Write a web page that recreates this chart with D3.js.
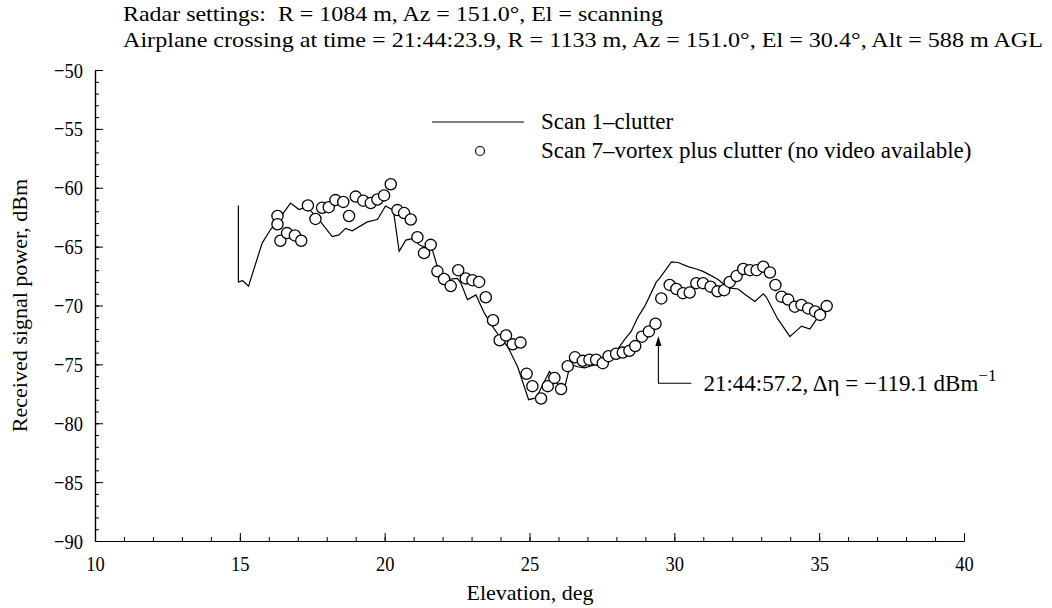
<!DOCTYPE html>
<html>
<head>
<meta charset="utf-8">
<script src="https://cdn.jsdelivr.net/npm/d3@7"></script>
<style>
body { margin: 0; background: #fff; }
svg { font-family: "Liberation Serif", "DejaVu Serif", serif; }
text { white-space: pre; }
</style>
</head>
<body>
<div id="chart" style="width:1052px;height:608px"></div>
<script>
var titleLines = [
    "Radar settings:  R = 1084 m, Az = 151.0\u00b0, El = scanning",
    "Airplane crossing at time = 21:44:23.9, R = 1133 m, Az = 151.0\u00b0, El = 30.4\u00b0, Alt = 588 m AGL"
]
var xTicks = [10, 15, 20, 25, 30, 35, 40]
var yTicks = [-50, -55, -60, -65, -70, -75, -80, -85, -90]
var seriesNames = ["Scan 1\u2013clutter", "Scan 7\u2013vortex plus clutter (no video available)"]

var clutterElev = [14.95, 14.95, 15.1, 15.3, 15.77, 16.06, 16.25, 16.75, 17.04, 17.32, 17.79, 18.19, 18.42, 18.65, 18.88,
    19.4, 19.75, 20.03, 20.3, 20.5, 20.73, 21.0, 21.19, 21.65, 21.82, 22.11, 22.51, 22.63, 22.86, 23.15, 23.44,
    23.73, 24.01, 24.25, 24.59, 24.97, 25.22, 25.34, 25.69, 25.8, 26.09, 26.21, 26.35, 26.44, 26.67, 26.9, 27.24,
    27.53, 27.82, 28.05, 28.28, 28.51, 28.74, 28.97, 29.09, 29.38, 29.49, 29.9, 30.13, 30.47, 30.76, 30.99, 31.22,
    31.51, 31.86, 32.2, 32.43, 32.78, 33.07, 33.18, 33.56, 33.99, 34.39, 34.68, 34.97]
var clutterPower = [-61.5, -68.0, -67.9, -68.35, -64.7, -63.55, -63.0, -61.3, -61.85, -61.6, -62.9, -64.15, -64.0, -63.45, -63.65,
    -62.9, -62.7, -61.55, -61.9, -65.4, -64.45, -64.3, -64.85, -65.3, -66.7, -67.8, -67.7, -68.1, -69.5, -69.1, -70.65,
    -71.8, -72.8, -73.5, -75.2, -78.0, -77.85, -77.3, -75.6, -76.0, -77.15, -77.0, -75.6, -75.05, -75.2, -75.3, -75.05,
    -74.75, -74.3, -73.7, -72.9, -72.2, -71.0, -70.1, -69.5, -68.0, -67.7, -66.3, -66.35, -66.7, -66.9, -67.1, -67.4,
    -67.8, -68.5, -68.6, -69.05, -69.65, -69.0, -69.3, -71.1, -72.65, -71.75, -72.0, -70.95]

var vortexElev = [16.3, 16.3, 16.4, 16.63, 16.9, 17.12, 17.35, 17.61, 17.84, 18.07, 18.3, 18.57, 18.77, 19.0, 19.26,
    19.52, 19.75, 19.98, 20.21, 20.44, 20.67, 20.9, 21.13, 21.36, 21.59, 21.82, 22.05, 22.28, 22.54, 22.8, 23.03,
    23.26, 23.49, 23.74, 23.97, 24.19, 24.42, 24.69, 24.9, 25.1, 25.4, 25.63, 25.86, 26.09, 26.32, 26.57, 26.84,
    27.07, 27.3, 27.53, 27.73, 27.99, 28.22, 28.45, 28.65, 28.88, 29.12, 29.35, 29.55, 29.84, 30.07, 30.3, 30.53,
    30.76, 30.99, 31.25, 31.49, 31.72, 31.91, 32.15, 32.38, 32.61, 32.84, 33.07, 33.3, 33.49, 33.7, 33.93, 34.16,
    34.39, 34.62, 34.86, 35.03, 35.26]
var vortexPower = [-62.4, -63.1, -64.5, -63.85, -64.05, -64.5, -61.5, -62.65, -61.7, -61.65, -61.05, -61.2, -62.4, -60.75, -61.1,
    -61.3, -61.0, -60.65, -59.7, -61.9, -62.15, -62.7, -64.2, -65.55, -64.85, -67.1, -67.75, -68.35, -67.0, -67.7, -67.85,
    -68.0, -69.3, -71.25, -72.95, -72.55, -73.3, -73.15, -75.8, -76.85, -77.9, -76.85, -76.15, -77.1, -75.15, -74.4, -74.7,
    -74.6, -74.6, -74.9, -74.3, -74.1, -74.0, -73.85, -73.45, -72.65, -72.2, -71.55, -69.4, -68.25, -68.6, -68.95, -68.9,
    -68.1, -68.1, -68.4, -68.8, -68.7, -68.0, -67.5, -66.9, -67.0, -67.0, -66.7, -67.2, -68.25, -69.25, -69.5, -70.1,
    -69.95, -70.25, -70.5, -70.8, -70.05]

var markerElev = 29.45
var markerTop = -72.6
var markerText = "21:44:57.2, \u0394\u03b7 = \u2212119.1 dBm"

function Chart(id) {
    var dom = document.getElementById(id)
    var svg = d3.select("#" + id)
                .append("svg")
                .attr("width", dom.clientWidth)
                .attr("height", dom.clientHeight)

    var x = d3.scaleLinear().domain([10, 40]).range([95, 964])
    var y = d3.scaleLinear().domain([-90, -50]).range([541, 70])

    // minor ticks every unit, pointing inward
    svg.append("g")
       .attr("transform", "translate(0," + y(-90) + ")")
       .call(d3.axisBottom(x).tickValues(d3.range(10, 41, 1)).tickSizeInner(-4).tickSizeOuter(0).tickFormat(""))
    svg.append("g")
       .attr("transform", "translate(" + x(10) + ",0)")
       .call(d3.axisLeft(y).tickValues(d3.range(-90, -49, 1)).tickSizeInner(-4).tickSizeOuter(0).tickFormat(""))

    var xAxis = svg.append("g")
       .attr("transform", "translate(0," + y(-90) + ")")
       .call(d3.axisBottom(x).tickValues(xTicks).tickSizeInner(-8).tickSizeOuter(0).tickPadding(14))
    var yAxis = svg.append("g")
       .attr("transform", "translate(" + x(10) + ",0)")
       .call(d3.axisLeft(y).tickValues(yTicks).tickSizeInner(-8).tickSizeOuter(0).tickPadding(6)
             .tickFormat(function (d) { return String(d).replace("-", "\u2212") }))

    svg.selectAll(".domain").attr("stroke", "#000").attr("stroke-width", 1.2)
    svg.selectAll(".tick line").attr("stroke", "#000")
    svg.selectAll(".tick text")
       .attr("font-family", "Liberation Serif")
       .attr("font-size", 22)
       .attr("fill", "#000")
    xAxis.selectAll(".tick text").attr("dy", "0.72em")
    yAxis.selectAll(".tick text").attr("dx", "-6")

    svg.selectAll(".tick text").each(function () {
        var w = this.getComputedTextLength()
        d3.select(this).attr("textLength", w * 0.84).attr("lengthAdjust", "spacingAndGlyphs")
    })

    svg.append("text")
       .attr("x", 530)
       .attr("y", 600)
       .attr("text-anchor", "middle")
       .attr("font-size", 22)
       .text("Elevation, deg")

    svg.append("text")
       .attr("transform", "translate(27," + y(-70) + ") rotate(-90)")
       .attr("text-anchor", "middle")
       .attr("font-size", 22)
       .text("Received signal power, dBm")

    svg.selectAll(".title")
       .data(titleLines)
       .enter().append("text")
       .attr("class", "title")
       .attr("x", 123)
       .attr("y", function (d, i) { return 21 + i * 26 })
       .attr("font-size", 22)
       .attr("textLength", function (d, i) { return i == 0 ? 540 : 920 })
       .attr("lengthAdjust", "spacingAndGlyphs")
       .text(function (d) { return d })

    var clutter = d3.zip(clutterElev, clutterPower)
    svg.append("path")
       .datum(clutter)
       .attr("fill", "none")
       .attr("stroke", "#000")
       .attr("stroke-width", 1.2)
       .attr("d", d3.line().x(function (d) { return x(d[0]) }).y(function (d) { return y(d[1]) }))

    var vortex = d3.zip(vortexElev, vortexPower)
    svg.selectAll(".pt")
       .data(vortex)
       .enter().append("circle")
       .attr("class", "pt")
       .attr("cx", function (d) { return x(d[0]) })
       .attr("cy", function (d) { return y(d[1]) })
       .attr("r", 5.6)
       .attr("fill", "#fff")
       .attr("stroke", "#000")
       .attr("stroke-width", 1.3)

    // annotation arrow
    var ax = x(markerElev)
    var ay = y(markerTop)
    var corner = y(-76.6)
    svg.append("path")
       .attr("fill", "none")
       .attr("stroke", "#000")
       .attr("stroke-width", 1.1)
       .attr("d", "M" + ax + "," + (ay + 8) + "V" + corner + "H" + (ax + 33))
    svg.append("path")
       .attr("fill", "#000")
       .attr("d", "M" + ax + "," + ay + "l-3,10l6,0z")
    var note = svg.append("text")
       .attr("x", ax + 45)
       .attr("y", corner + 8)
       .attr("font-size", 23)
       .text(markerText)
    note.append("tspan")
       .attr("dy", -10)
       .attr("font-size", 17)
       .text("\u22121")

    // legend
    var legend = svg.selectAll(".legend")
                    .data(seriesNames)
                    .enter().append("g")
                    .attr("class", "legend")
                    .attr("transform", function (d, i) {
                        return "translate(432," + (122 + i * 29) + ")"
                    })
    legend.filter(function (d, i) { return i == 0 })
          .append("line")
          .attr("x1", 0).attr("x2", 92)
          .attr("stroke", "#000")
          .attr("stroke-width", 1)
    legend.filter(function (d, i) { return i == 1 })
          .append("circle")
          .attr("cx", 48).attr("r", 4.5)
          .attr("fill", "#fff")
          .attr("stroke", "#000")
          .attr("stroke-width", 1.2)
    legend.append("text")
          .attr("x", 109)
          .attr("y", 7)
          .attr("font-size", 23)
          .text(function (d) { return d })
}

Chart("chart")
</script>
</body>
</html>
